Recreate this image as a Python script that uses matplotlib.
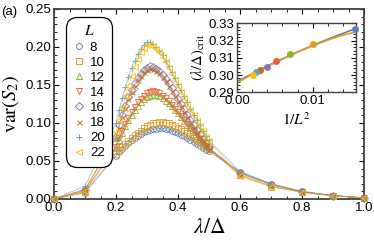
import numpy as np
import matplotlib
matplotlib.use("Agg")
import matplotlib.pyplot as plt
from matplotlib.ticker import MultipleLocator

plt.rcParams['font.family'] = ['Liberation Sans', 'DejaVu Sans']
plt.rcParams['mathtext.fontset'] = 'stix'

# lambda/Delta grid
lam = [0.00, 0.10, 0.20, 0.21, 0.22, 0.23, 0.24, 0.25, 0.26, 0.27, 0.28, 0.29,
       0.30, 0.31, 0.32, 0.33, 0.34, 0.35, 0.36, 0.37, 0.38, 0.39, 0.40, 0.41,
       0.42, 0.43, 0.44, 0.45, 0.46, 0.47, 0.48, 0.49, 0.50, 0.60, 0.70, 0.80,
       0.90, 1.00]

sizes = [8, 10, 12, 14, 16, 18, 20, 22]

var_8 = [0, .008, .057, .062, .066, .070, .0735, .077, .080, .083, .0855, .0875,
         .089, .0905, .0915, .0925, .093, .093, .0925, .0915, .090, .0885, .0865,
         .0845, .0825, .080, .0775, .075, .0725, .070, .0675, .065, .0625,
         .036, .020, .010, .0045, .0015]
var_10 = [0, .009, .059, .064, .068, .072, .076, .080, .084, .087, .090, .0935,
          .096, .098, .0995, .1005, .101, .101, .1005, .0995, .098, .096, .094,
          .0915, .089, .0865, .0835, .0805, .0775, .0745, .0715, .0685, .0655,
          .031, .016, .009, .004, .0015]
var_12 = [0, .010, .068, .078, .087, .096, .104, .111, .117, .122, .127, .131,
          .134, .136, .137, .1365, .135, .1325, .1295, .126, .122, .1175, .113,
          .108, .103, .098, .093, .088, .083, .0785, .074, .070, .066,
          .035, .019, .0095, .0045, .0015]
var_14 = [0, .011, .069, .080, .090, .099, .107, .114, .121, .127, .132, .136,
          .139, .141, .1415, .141, .139, .136, .1325, .1285, .124, .119, .114,
          .109, .104, .099, .094, .089, .084, .079, .0745, .070, .066,
          .034, .019, .0095, .0045, .0015]
var_16 = [0, .012, .082, .097, .111, .123, .134, .144, .152, .159, .165, .170,
          .173, .1745, .174, .1715, .168, .1635, .158, .152, .1455, .139, .132,
          .125, .118, .111, .104, .097, .091, .085, .079, .0735, .068,
          .034, .019, .0095, .0045, .0015]
var_18 = [0, .013, .080, .094, .108, .120, .131, .141, .149, .156, .162, .167,
          .170, .1715, .171, .169, .1655, .161, .1555, .149, .1425, .136, .129,
          .122, .115, .108, .101, .0945, .088, .082, .0765, .071, .066,
          .032, .017, .009, .004, .0015]
var_20 = [0, .017, .100, .117, .133, .147, .160, .172, .182, .191, .198, .203,
          .2065, .2065, .204, .200, .195, .189, .182, .175, .167, .159, .151,
          .143, .135, .127, .119, .111, .104, .097, .090, .083, .077,
          .036, .020, .010, .0045, .0015]
var_22 = [0, .010, .088, .104, .120, .135, .149, .162, .174, .184, .193, .199,
          .2025, .203, .2015, .198, .193, .187, .180, .173, .165, .157, .149,
          .141, .133, .125, .117, .110, .103, .096, .089, .082, .076,
          .030, .016, .0085, .004, .0015]
all_var = [var_8, var_10, var_12, var_14, var_16, var_18, var_20, var_22]

# inset: peak position vs 1/L^2
inv_L2 = [1 / L**2 for L in sizes]
lam_crit = [0.3267, 0.3182, 0.3120, 0.3081, 0.3045, 0.3029, 0.3019, 0.3000]
fit_x = [0.0, 0.002, 0.004, 0.006, 0.008, 0.010, 0.012, 0.014, 0.0157]
fit_blue = [0.2962, 0.3008, 0.3052, 0.3094, 0.3134, 0.3172, 0.3208, 0.3242, 0.3270]
fit_orange = [0.2955, 0.3004, 0.3050, 0.3093, 0.3133, 0.3170, 0.3203, 0.3232, 0.3250]

colors = ['#5E81B5', '#E19C24', '#8FB032', '#EB6235',
          '#8778B3', '#C56E1A', '#5D9EC7', '#FFBF00']
markers = ['o', 's', '^', 'v', 'D', 'x', '+', '<']
msizes = [4.2, 3.8, 4.2, 4.2, 3.6, 3.6, 4.8, 4.2]


def style_axes(ax):
    for s in ax.spines.values():
        s.set_linewidth(1.3)
        s.set_color('#404040')
    ax.tick_params(which='both', direction='in', top=True, right=True,
                   labelsize=9.5, pad=2)
    ax.tick_params(which='major', length=3.5, width=0.8)
    ax.tick_params(which='minor', length=2, width=0.6)


fig = plt.figure(figsize=(3.74, 2.45), dpi=100)
ax = fig.add_axes([0.1444, 0.1878, 0.8289, 0.7755])

for L, y, c, m, ms in zip(sizes, all_var, colors, markers, msizes):
    ax.plot(lam, y, '-', color=c, lw=0.6, alpha=0.6, zorder=2)
    ax.plot(lam, y, ls='none', marker=m, mfc='none', mec=c, mew=0.7,
            ms=ms, alpha=0.85, zorder=3, clip_on=False, label=str(L))

ax.set_xlim(0, 1)
ax.set_ylim(0, 0.25)
ax.xaxis.set_major_locator(MultipleLocator(0.2))
ax.xaxis.set_minor_locator(MultipleLocator(0.05))
ax.yaxis.set_major_locator(MultipleLocator(0.05))
ax.yaxis.set_minor_locator(MultipleLocator(0.01))
ax.xaxis.set_major_formatter(lambda v, p: f'{v:.1f}')
ax.yaxis.set_major_formatter(lambda v, p: f'{v:.2f}')
style_axes(ax)
ax.set_xlabel(r'$\lambda/\Delta$', fontsize=15.5, labelpad=2)
ax.set_ylabel(r'$\mathrm{var}(S_2)$', fontsize=14.5, labelpad=3)

leg = ax.legend(loc='upper left', bbox_to_anchor=(0.022, 0.985), fontsize=9.5,
                title=r'$L$', title_fontsize=11, frameon=True, fancybox=True,
                framealpha=1, edgecolor='black', handlelength=0.8,
                handletextpad=0.45, labelspacing=0.22, borderpad=0.45)
leg.get_frame().set_linewidth(0.9)
leg.get_frame().set_boxstyle('round', pad=0.1, rounding_size=0.8)
for h in leg.legend_handles:
    h.set_alpha(1)

fig.text(0.003, 0.975, '(a)', fontsize=9.5, va='top', ha='left')

# inset
axi = fig.add_axes([0.6337, 0.6233, 0.3182, 0.2816])
axi.plot(fit_x, fit_blue, color='#5E81B5', lw=1.2, zorder=2)
axi.plot(fit_x, fit_orange, color='#E19C24', lw=1.2, zorder=2)
for xv, yv, c in zip(inv_L2, lam_crit, colors):
    axi.plot(xv, yv, 'o', color=c, ms=4, zorder=3, clip_on=False)
axi.set_xlim(0, 0.0157)
axi.set_ylim(0.29, 0.33)
axi.xaxis.set_major_locator(MultipleLocator(0.01))
axi.xaxis.set_minor_locator(MultipleLocator(0.002))
axi.yaxis.set_major_locator(MultipleLocator(0.01))
axi.yaxis.set_minor_locator(MultipleLocator(0.002))
axi.xaxis.set_major_formatter(lambda v, p: f'{v:.2f}')
axi.yaxis.set_major_formatter(lambda v, p: f'{v:.2f}')
style_axes(axi)
for s in axi.spines.values():
    s.set_linewidth(1.0)
axi.set_xlabel(r'$1/L^2$', fontsize=11, labelpad=3)
axi.set_ylabel(r'$(\lambda/\Delta)_{\rm crit}$', fontsize=10.5, labelpad=1)

fig.savefig('out.png', dpi=100)
